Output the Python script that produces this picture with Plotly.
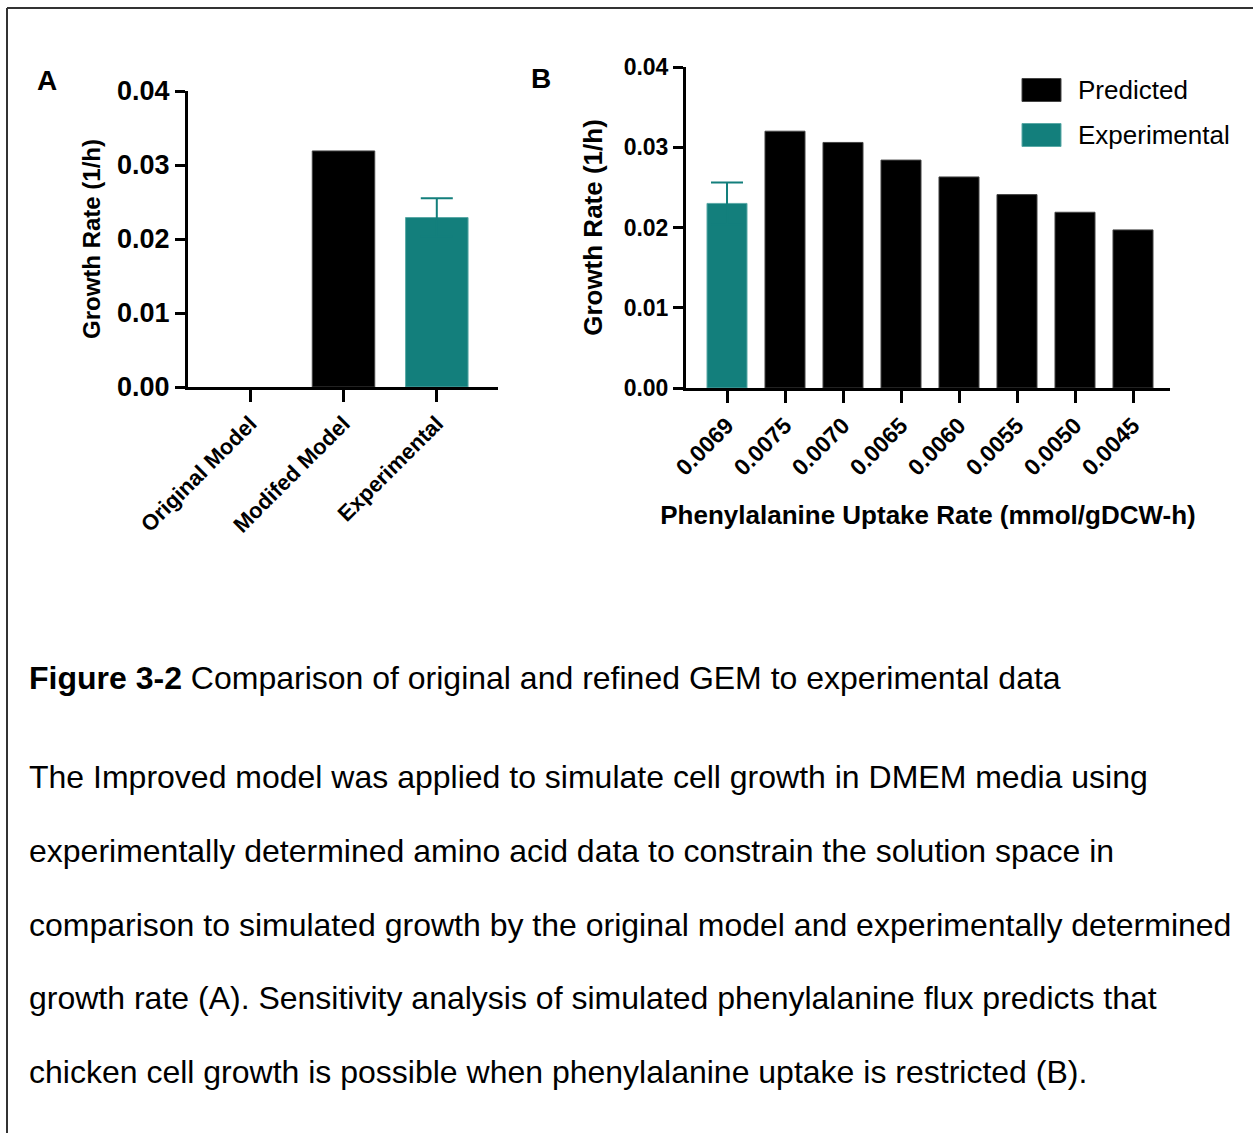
import plotly.graph_objects as go

# ---- data ----
a_categories = ["Original Model", "Modifed Model", "Experimental"]
a_model_values = [0.0, 0.0319]          # Original Model, Modifed Model
a_experimental = [0.0229]
a_experimental_error = [0.0026]

b_categories = ["0.0069", "0.0075", "0.0070", "0.0065", "0.0060", "0.0055", "0.0050", "0.0045"]
b_experimental = [0.0230]
b_experimental_error = [0.0026]
b_predicted = [0.0320, 0.0306, 0.0284, 0.0263, 0.0241, 0.0219, 0.0197]

y_ticks = [0.00, 0.01, 0.02, 0.03, 0.04]
y_ticktext = ["0.00", "0.01", "0.02", "0.03", "0.04"]

caption_title = "Figure 3-2"
caption_head = "Comparison of original and refined GEM to experimental data"
caption_lines = [
    "The Improved model was applied to simulate cell growth in DMEM media using",
    "experimentally determined amino acid data to constrain the solution space in",
    "comparison to simulated growth by the original model and experimentally determined",
    "growth rate (A). Sensitivity analysis of simulated phenylalanine flux predicts that",
    "chicken cell growth is possible when phenylalanine uptake is restricted (B).",
]

# ---- styling ----
W, H = 1253, 1133
BLACK = "#000000"
BLACK_EDGE = "#444444"
TEAL = "#137f7c"
TEAL_EDGE = "#5aa9a6"
FONT = "Liberation Sans, Arial, sans-serif"


def px(x):
    return x / W


def py(y):
    return 1 - y / H


fig = go.Figure()

# Panel A: model predictions and measured growth
a_model_line_w = [0 if v == 0 else 1 for v in a_model_values]
fig.add_trace(go.Bar(
    x=[0, 1], y=a_model_values,
    marker=dict(color=BLACK, line=dict(color=BLACK_EDGE, width=a_model_line_w)),
    width=0.67, xaxis="x", yaxis="y", showlegend=False,
))
fig.add_trace(go.Bar(
    x=[2], y=a_experimental,
    marker=dict(color=TEAL, line=dict(color=TEAL_EDGE, width=1)),
    width=0.67,
    error_y=dict(type="data", array=a_experimental_error, visible=True, color=TEAL, thickness=2, width=16),
    xaxis="x", yaxis="y", showlegend=False,
))

# Panel B: measured growth, then the predicted uptake sweep
fig.add_trace(go.Bar(
    x=[0], y=b_experimental, name="Experimental",
    marker=dict(color=TEAL, line=dict(color=TEAL_EDGE, width=1)),
    width=0.69,
    error_y=dict(type="data", array=b_experimental_error, visible=True, color=TEAL, thickness=2, width=16),
    xaxis="x2", yaxis="y2", showlegend=False,
))
fig.add_trace(go.Bar(
    x=list(range(1, len(b_categories))), y=b_predicted, name="Predicted",
    marker=dict(color=BLACK, line=dict(color=BLACK_EDGE, width=1)),
    width=0.69,
    xaxis="x2", yaxis="y2", showlegend=False,
))

axis_common = dict(showline=True, linecolor=BLACK, linewidth=3, ticks="outside",
                   tickcolor=BLACK, tickwidth=3, showgrid=False, zeroline=False,
                   automargin=False)

fig.update_layout(
    template="none",
    width=W, height=H,
    margin=dict(l=0, r=0, t=0, b=0, pad=0),
    paper_bgcolor="white", plot_bgcolor="white",
    font=dict(family=FONT, color=BLACK),
    barmode="overlay",
    xaxis=dict(
        domain=[px(188), px(498)], anchor="y",
        range=[-0.667, 2.656], tickmode="array",
        tickvals=list(range(len(a_categories))), ticktext=a_categories,
        tickangle=-45, ticklen=12,
        tickfont=dict(size=22, weight="bold", family=FONT),
        **axis_common,
    ),
    yaxis=dict(
        domain=[py(387), py(91)], anchor="x",
        range=[0, 0.04], tickmode="array", tickvals=y_ticks, ticktext=y_ticktext,
        ticklen=10, tickfont=dict(size=27, weight="bold", family=FONT),
        title=dict(text="Growth Rate (1/h)", font=dict(size=24, weight="bold", family=FONT), standoff=10),
        **axis_common,
    ),
    xaxis2=dict(
        domain=[px(686), px(1170)], anchor="y2",
        range=[-0.707, 7.638], tickmode="array",
        tickvals=list(range(len(b_categories))), ticktext=b_categories,
        tickangle=-45, ticklen=12,
        tickfont=dict(size=23, weight="bold", family=FONT),
        title=dict(text="Phenylalanine Uptake Rate (mmol/gDCW-h)",
                   font=dict(size=26, weight="bold", family=FONT), standoff=27),
        **axis_common,
    ),
    yaxis2=dict(
        domain=[py(388), py(67)], anchor="x2",
        range=[0, 0.04], tickmode="array", tickvals=y_ticks, ticktext=y_ticktext,
        ticklen=10, tickfont=dict(size=23, weight="bold", family=FONT),
        title=dict(text="Growth Rate (1/h)", font=dict(size=26, weight="bold", family=FONT), standoff=14),
        **axis_common,
    ),
)

# Frame lines along the top and left edges
fig.add_shape(type="line", xref="paper", yref="paper", x0=px(7), x1=1, y0=py(8), y1=py(8),
              line=dict(color="#333333", width=2))
fig.add_shape(type="line", xref="paper", yref="paper", x0=px(7), x1=px(7), y0=py(8), y1=0,
              line=dict(color="#333333", width=2))

# Panel letters
fig.add_annotation(text="<b>A</b>", xref="paper", yref="paper", x=px(47), y=py(80),
                   showarrow=False, font=dict(size=28, family=FONT), xanchor="center", yanchor="middle")
fig.add_annotation(text="<b>B</b>", xref="paper", yref="paper", x=px(541), y=py(79),
                   showarrow=False, font=dict(size=28, family=FONT), xanchor="center", yanchor="middle")

# Legend for panel B
legend_items = [("Predicted", BLACK, BLACK_EDGE, 90), ("Experimental", TEAL, TEAL_EDGE, 135)]
for name, color, edge, yc in legend_items:
    fig.add_shape(type="rect", xref="paper", yref="paper",
                  x0=px(1022), x1=px(1061), y0=py(yc + 11.5), y1=py(yc - 11.5),
                  fillcolor=color, line=dict(color=edge, width=1))
    fig.add_annotation(text=name, xref="paper", yref="paper", x=px(1076), y=py(yc),
                       showarrow=False, xanchor="left", yanchor="middle",
                       font=dict(size=26, family=FONT, color=BLACK))

# Caption
fig.add_annotation(text=f"<b>{caption_title}</b> {caption_head}", xref="paper", yref="paper",
                   x=px(27), y=py(678), showarrow=False, xanchor="left", yanchor="middle",
                   font=dict(size=32, family=FONT, color=BLACK))
for i, line in enumerate(caption_lines):
    fig.add_annotation(text=line, xref="paper", yref="paper",
                       x=px(27), y=py(777 + i * 73.8), showarrow=False,
                       xanchor="left", yanchor="middle",
                       font=dict(size=32, family=FONT, color=BLACK))

fig.write_html("out.html")
